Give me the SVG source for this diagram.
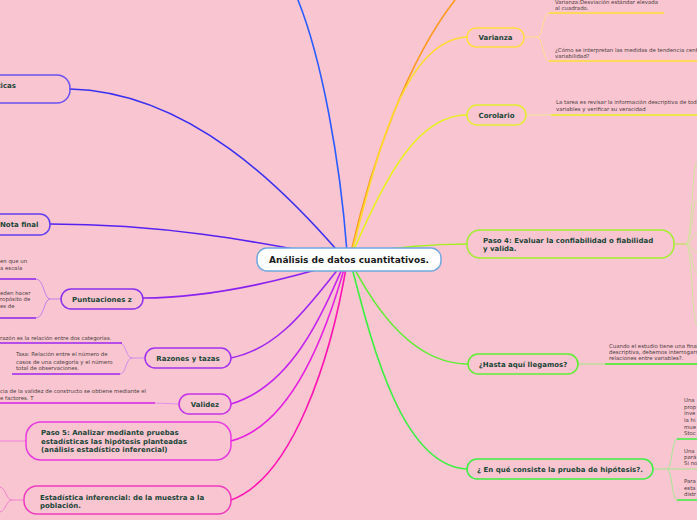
<svg xmlns="http://www.w3.org/2000/svg" width="697" height="520" viewBox="0 0 697 520">
<style>
.nt{font-family:"DejaVu Sans",Verdana,sans-serif;font-weight:bold;font-size:7px;fill:#1b4638}
.ct{font-family:"DejaVu Sans",Verdana,sans-serif;font-weight:bold;font-size:9px;fill:#1a1a1a}
.st{font-family:"DejaVu Sans",Verdana,sans-serif;font-size:5.4px;fill:#4a3c3c}
.n{fill:none;stroke-width:1.5}
.c{fill:none;stroke-width:1.6;stroke-linecap:round}
.b{fill:none;stroke-width:0.8}
.u{fill:none;stroke-width:1.6}
</style>
<rect width="697" height="520" fill="#f9c5d1"/>
<g id="connectors">
<path class="c" stroke="#2a5cff" d="M347,252 C340,160 322,60 298,0"/>
<path class="c" stroke="#3a2ff0" d="M342,256 C285,190 190,92 70,89"/>
<path class="c" stroke="#5522f0" d="M340,258 C250,240 160,224 50,224"/>
<path class="c" stroke="#8a22f0" d="M343,262 C300,275 220,298 143,298"/>
<path class="c" stroke="#9f26f0" d="M344,262 C312,300 282,348 231,358"/>
<path class="c" stroke="#c626ec" d="M345,262 C322,315 292,386 231,404"/>
<path class="c" stroke="#e622e0" d="M346,262 C326,335 292,425 231,441"/>
<path class="c" stroke="#ff14b4" d="M347,262 C331,360 292,478 231,500"/>
<path class="c" stroke="#ff9a20" d="M351,252 C372,160 408,60 455,0"/>
<path class="c" stroke="#ffdb30" d="M352,252 C378,150 405,40 467,37"/>
<path class="c" stroke="#e6f020" d="M353,252 C388,170 420,115 467,115"/>
<path class="c" stroke="#a2f020" d="M354,254 C390,248 430,244 467,244"/>
<path class="c" stroke="#5cf030" d="M352,264 C382,322 420,364 468,364"/>
<path class="c" stroke="#3cf040" d="M351,264 C372,345 402,466 467,469"/>
<!-- Puntuaciones z children -->
<path class="b" stroke="#b070f0" d="M61,299 L50,299 C44,299 44,279 36,279 M50,299 C44,299 44,318 36,318"/>
<path class="u" stroke="#8a22f0" d="M36,279 L0,279 M36,318 L0,318"/>
<!-- Razones children -->
<path class="b" stroke="#c080f0" d="M145,358 L132,358 C126,358 126,343 120,343 M132,358 C126,358 126,374 120,374"/>
<path class="u" stroke="#a026f0" d="M122,343 L0,343 M120,374 L12,374"/>
<!-- Validez child -->
<path class="b" stroke="#e080f0" d="M179,404 L155,403"/>
<path class="u" stroke="#d022e8" d="M155,403 L0,403"/>
<!-- Paso 5 left -->
<path class="b" stroke="#f070e0" d="M26,441 L0,441"/>
<!-- Estadistica left -->
<path class="b" stroke="#f070d0" d="M24,500 L12,500 C6,500 6,488 0,487 M12,500 C6,500 6,511 0,512"/>
<!-- Varianza children -->
<path class="b" stroke="#ffe47a" d="M524,37 L537,37 C543,37 543,13 549,13 M537,37 C543,37 543,61 549,61"/>
<path class="u" stroke="#ffe030" d="M549,13 L664,13 M549,61 L697,61"/>
<!-- Corolario child -->
<path class="b" stroke="#eef080" d="M526,115 L551,115"/>
<path class="u" stroke="#e6f020" d="M551,115 L697,115"/>
<!-- Paso 4 children -->
<path class="b" stroke="#a2f020" d="M674,244 L686,244"/>
<path class="b" stroke="#c8e890" d="M686,244 C692,244 692,162 697,162 M686,244 C692,244 692,200 697,200 M686,244 C692,244 692,233 697,233 M686,244 C692,244 692,252 697,252 M686,244 C692,244 692,273 697,273 M686,244 C692,244 692,325 697,325"/>
<!-- Hasta child -->
<path class="b" stroke="#90f070" d="M578,364 L605,364"/>
<path class="u" stroke="#3cf020" d="M605,364 L697,364"/>
<!-- En que children -->
<path class="b" stroke="#90f080" d="M653,469 L667,469 C672,469 672,439 677,439 M667,469 L697,469 M667,469 C672,469 672,500 677,500"/>
<path class="u" stroke="#3cf040" d="M677,439 L697,439 M677,500 L697,500"/>
</g>
<g id="center">
<rect x="257" y="248" width="184" height="23" rx="10" fill="#ffffff" stroke="#6fa8dc" stroke-width="1.5"/>
<text class="ct" x="349" y="263" text-anchor="middle">Análisis de datos cuantitativos.</text>
</g>
<g id="n-ticas">
<rect class="n" x="-40" y="75" width="110" height="28" rx="13" stroke="#6a52f0"/>
<text class="nt" x="16" y="88" text-anchor="end">ticas</text>
</g>
<g id="n-nota">
<rect class="n" x="-20" y="214" width="70" height="21" rx="10" stroke="#6040f0"/>
<text class="nt" x="0" y="227">Nota final</text>
</g>
<g id="n-puntuaciones">
<rect class="n" x="61" y="289" width="82" height="20" rx="10" stroke="#8c30ee"/>
<text class="nt" x="102" y="301.5" text-anchor="middle">Puntuaciones z</text>
<text class="st" x="0" y="263">en que un</text>
<text class="st" x="0" y="270">a escala</text>
<text class="st" x="0" y="294.5">eden hacer</text>
<text class="st" x="0" y="301">ropósito de</text>
<text class="st" x="0" y="307.5">es de</text>
</g>
<g id="n-razones">
<rect class="n" x="145" y="348" width="86" height="20" rx="10" stroke="#a232ee"/>
<text class="nt" x="188" y="360.5" text-anchor="middle">Razones y tazas</text>
<text class="st" x="0" y="339.5">razón es la relación entre dos categorías.</text>
<text class="st" x="16" y="356">Tasa: Relación entre el número de</text>
<text class="st" x="16" y="363.5">casos de una categoría y el número</text>
<text class="st" x="16" y="370">total de observaciones.</text>
</g>
<g id="n-validez">
<rect class="n" x="179" y="394" width="52" height="20" rx="10" stroke="#c632e8"/>
<text class="nt" x="205" y="406.5" text-anchor="middle">Validez</text>
<text class="st" x="0" y="392.5">cia de la validez de constructo se obtiene mediante el</text>
<text class="st" x="0" y="400">e factores. T</text>
</g>
<g id="n-paso5">
<rect class="n" x="26" y="422" width="205" height="38" rx="15" stroke="#e83ae0"/>
<text class="nt" x="41" y="435">Paso 5: Analizar mediante pruebas</text>
<text class="nt" x="41" y="443.5">estadísticas las hipótesis planteadas</text>
<text class="nt" x="41" y="452">(análisis estadístico inferencial)</text>
</g>
<g id="n-inferencial">
<rect class="n" x="24" y="486" width="207" height="28" rx="13" stroke="#f03ac0"/>
<text class="nt" x="40" y="499.5">Estadística inferencial: de la muestra a la</text>
<text class="nt" x="40" y="507.5">población.</text>
</g>
<g id="n-varianza">
<rect class="n" x="467" y="28" width="57" height="19" rx="9" stroke="#ffdb40"/>
<text class="nt" x="495.5" y="40" text-anchor="middle">Varianza</text>
<text class="st" x="555" y="3.5">Varianza:Desviación estándar elevada</text>
<text class="st" x="555" y="9.5">al cuadrado.</text>
<text class="st" x="555" y="51.5">¿Cómo se interpretan las medidas de tendencia central</text>
<text class="st" x="555" y="57.5">variabilidad?</text>
</g>
<g id="n-corolario">
<rect class="n" x="467" y="105" width="59" height="20" rx="10" stroke="#e2ee30"/>
<text class="nt" x="496.5" y="117.5" text-anchor="middle">Corolario</text>
<text class="st" x="556" y="104">La tarea es revisar la información descriptiva de todas</text>
<text class="st" x="556" y="111">variables y verificar su veracidad</text>
</g>
<g id="n-paso4">
<rect class="n" x="467" y="230" width="207" height="28" rx="13" stroke="#a2ee30"/>
<text class="nt" x="483" y="243">Paso 4: Evaluar la confiabilidad o fiabilidad</text>
<text class="nt" x="483" y="251">y valida.</text>
</g>
<g id="n-hasta">
<rect class="n" x="468" y="354" width="110" height="20" rx="10" stroke="#5cf030"/>
<text class="nt" x="523" y="366.5" text-anchor="middle">¿Hasta aquí llegamos?</text>
<text class="st" x="609" y="347.5">Cuando el estudio tiene una finalidad</text>
<text class="st" x="609" y="354">descriptiva, debemos interrogarnos</text>
<text class="st" x="609" y="360">relaciones entre variables?.</text>
</g>
<g id="n-hipotesis">
<rect class="n" x="467" y="459" width="186" height="20" rx="10" stroke="#3cf040"/>
<text class="nt" x="560" y="471.5" text-anchor="middle">¿ En qué consiste la prueba de hipótesis?.</text>
<text class="st" x="684" y="402">Una</text>
<text class="st" x="684" y="408.7">prop</text>
<text class="st" x="684" y="415.3">inve</text>
<text class="st" x="684" y="422">la hi</text>
<text class="st" x="684" y="428.7">mue</text>
<text class="st" x="684" y="435.3">Stoc</text>
<text class="st" x="684" y="452.5">Una</text>
<text class="st" x="684" y="458.5">pará</text>
<text class="st" x="684" y="464.5">Si no</text>
<text class="st" x="684" y="482.5">Para</text>
<text class="st" x="684" y="489.5">esta</text>
<text class="st" x="684" y="496">distr</text>
</g>
</svg>
